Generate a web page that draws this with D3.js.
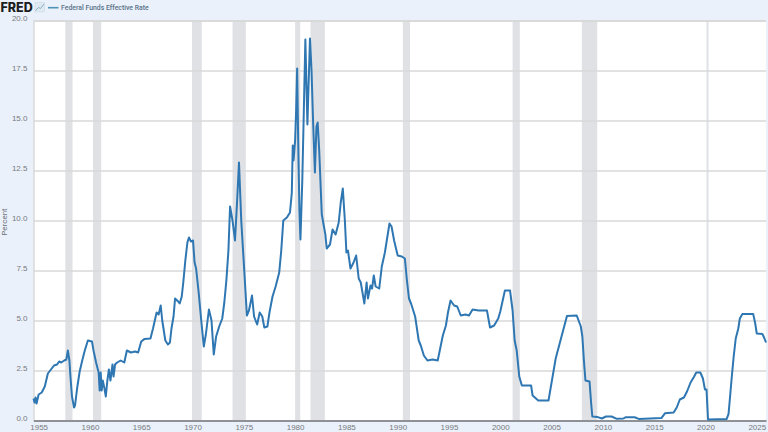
<!DOCTYPE html>
<html>
<head>
<meta charset="utf-8">
<script src="https://cdn.jsdelivr.net/npm/d3@7/dist/d3.min.js"></script>
<style>
    html, body { margin: 0; padding: 0; background: #eaf1fb; overflow: hidden; }
    svg { display: block; font-family: Roboto, "Open Sans", sans-serif; }
    .tick text { fill: #77797c; font-size: 8px; }
</style>
</head>
<body>
<div id="chart"></div>
<script>
const seriesName = 'Federal Funds Effective Rate';
const yTicks = [0, 2.5, 5, 7.5, 10, 12.5, 15, 17.5, 20];
const xTicks = [1955, 1960, 1965, 1970, 1975, 1980, 1985, 1990, 1995, 2000, 2005, 2010, 2015, 2020, 2025];
const recessions = [
    [1957.6, 1958.3], [1960.3, 1961.1], [1969.95, 1970.9], [1973.9, 1975.2], [1980.0, 1980.5],
    [1981.5, 1982.9], [1990.5, 1991.2], [2001.2, 2001.9], [2007.95, 2009.45], [2020.1, 2020.3]
];

// [year, percent], split by stretch
const rate1950s = [
    [1954.5, 1.1], [1954.6, 0.9], [1954.7, 1.15], [1954.8, 0.85], [1955.0, 1.3], [1955.3, 1.4], [1955.6, 1.7],
    [1955.9, 2.35], [1956.2, 2.55], [1956.5, 2.75], [1956.8, 2.8], [1957.0, 2.95], [1957.2, 2.9], [1957.5, 3.0],
    [1957.7, 3.05], [1957.85, 3.5], [1958.0, 3.0], [1958.1, 2.2], [1958.25, 1.2], [1958.45, 0.65], [1958.55, 0.75],
    [1958.75, 1.6], [1959.0, 2.45], [1959.25, 3.0], [1959.5, 3.5], [1959.8, 4.0], [1960.2, 3.95]
];
const rate1960s = [
    [1960.35, 3.5], [1960.6, 2.9], [1960.85, 2.4], [1960.95, 1.5], [1961.05, 2.4], [1961.15, 1.5], [1961.25, 2.0],
    [1961.4, 1.65], [1961.55, 1.2], [1961.7, 2.0], [1961.85, 2.55], [1962.0, 2.0], [1962.2, 2.8], [1962.3, 2.2],
    [1962.45, 2.8], [1962.65, 2.9], [1963.0, 3.0], [1963.35, 2.9], [1963.6, 3.5], [1964.0, 3.4], [1964.4, 3.45],
    [1964.7, 3.4], [1965.0, 3.95], [1965.3, 4.07], [1965.9, 4.1], [1966.15, 4.6], [1966.5, 5.4], [1966.7, 5.3],
    [1966.9, 5.75], [1967.05, 5.0], [1967.35, 4.0], [1967.6, 3.8], [1967.8, 3.9], [1967.95, 4.6], [1968.15, 5.2],
    [1968.3, 6.1], [1968.6, 5.95], [1968.75, 5.85], [1968.95, 6.2], [1969.1, 6.9], [1969.3, 8.0], [1969.5, 8.9],
    [1969.65, 9.15], [1969.85, 8.95], [1970.05, 9.0]
];
const rate1970s = [
    [1970.2, 7.9], [1970.35, 7.6], [1970.6, 6.4], [1970.85, 5.0], [1971.1, 3.7], [1971.3, 4.3], [1971.6, 5.55],
    [1971.85, 5.0], [1972.07, 3.3], [1972.3, 4.2], [1972.6, 4.7], [1972.9, 5.1], [1973.1, 5.9], [1973.3, 7.0],
    [1973.5, 8.5], [1973.66, 10.7], [1973.9, 10.0], [1974.14, 9.0], [1974.35, 11.0], [1974.53, 12.9], [1974.75, 10.0],
    [1975.1, 7.0], [1975.3, 5.25], [1975.5, 5.5], [1975.8, 6.25], [1976.0, 5.2], [1976.3, 4.8], [1976.55, 5.4],
    [1976.8, 5.2], [1977.0, 4.65], [1977.3, 4.7], [1977.5, 5.4], [1977.8, 6.2], [1978.1, 6.7], [1978.45, 7.4],
    [1978.65, 8.5], [1978.85, 10.0], [1979.2, 10.15], [1979.5, 10.4], [1979.68, 11.4], [1979.77, 13.75], [1979.85, 13.0],
    [1980.0, 14.0]
];
const rate1980s = [
    [1980.1, 15.5], [1980.2, 17.6], [1980.3, 14.0], [1980.42, 10.5], [1980.52, 9.05], [1980.7, 12.0], [1980.85, 15.5],
    [1981.0, 19.05], [1981.2, 14.8], [1981.45, 19.1], [1981.6, 17.5], [1981.75, 15.0], [1981.93, 12.4], [1982.08, 14.7],
    [1982.2, 14.9], [1982.35, 13.5], [1982.6, 10.3], [1982.95, 9.3], [1983.08, 8.6], [1983.4, 8.8], [1983.65, 9.55],
    [1983.95, 9.3], [1984.25, 9.9], [1984.45, 10.9], [1984.65, 11.6], [1984.85, 10.0], [1985.0, 8.4], [1985.15, 8.5],
    [1985.4, 7.6], [1985.7, 7.9], [1985.95, 8.25], [1986.2, 7.1], [1986.4, 6.9], [1986.75, 5.85], [1986.97, 6.9],
    [1987.1, 6.1], [1987.35, 6.75], [1987.5, 6.6], [1987.67, 7.25], [1987.85, 6.7], [1988.2, 6.6], [1988.45, 7.7],
    [1988.75, 8.4], [1989.2, 9.85], [1989.4, 9.7], [1989.65, 9.0], [1990.0, 8.25]
];
const rate1990s = [
    [1990.4, 8.2], [1990.7, 8.1], [1990.9, 7.0], [1991.1, 6.1], [1991.3, 5.85], [1991.7, 5.2], [1992.05, 4.0],
    [1992.25, 3.75], [1992.55, 3.25], [1992.9, 3.0], [1993.4, 3.05], [1993.9, 3.0], [1994.1, 3.5], [1994.4, 4.25],
    [1994.7, 4.75], [1994.9, 5.4], [1995.15, 6.0], [1995.5, 5.75], [1995.8, 5.7], [1996.15, 5.25], [1996.6, 5.3],
    [1996.95, 5.25], [1997.3, 5.55], [1997.9, 5.5], [1998.5, 5.5], [1998.7, 5.5], [1999.0, 4.65], [1999.4, 4.75],
    [1999.8, 5.1], [2000.0, 5.45]
];
const rate2000s = [
    [2000.45, 6.5], [2000.95, 6.5], [2001.2, 5.5], [2001.4, 4.0], [2001.6, 3.5], [2001.85, 2.2], [2002.1, 1.75],
    [2003.0, 1.75], [2003.15, 1.25], [2003.7, 1.0], [2004.7, 1.0], [2005.4, 3.1], [2006.5, 5.22], [2007.45, 5.25],
    [2007.85, 4.7], [2008.0, 4.2], [2008.15, 3.0], [2008.3, 2.0], [2008.7, 1.95], [2008.85, 0.9], [2008.97, 0.2],
    [2009.5, 0.17], [2009.9, 0.1]
];
const rate2010s = [
    [2010.3, 0.2], [2010.85, 0.2], [2011.3, 0.09], [2012.0, 0.1], [2012.2, 0.16], [2013.1, 0.16], [2013.5, 0.08],
    [2015.7, 0.12], [2016.05, 0.36], [2016.9, 0.4], [2017.2, 0.65], [2017.5, 1.05], [2017.9, 1.15], [2018.2, 1.45],
    [2018.55, 1.9], [2018.9, 2.2], [2019.1, 2.4], [2019.5, 2.4], [2019.75, 2.1], [2019.95, 1.55]
];
const rate2020s = [
    [2020.1, 1.55], [2020.25, 0.05], [2022.07, 0.08], [2022.25, 0.33], [2022.4, 1.2], [2022.55, 2.1], [2022.75, 3.2],
    [2022.95, 4.1], [2023.2, 4.6], [2023.35, 5.1], [2023.6, 5.33], [2024.65, 5.33], [2024.85, 4.85], [2025.0, 4.35],
    [2025.55, 4.33], [2025.75, 4.1], [2025.9, 3.9]
];
const rateData = [].concat(rate1950s, rate1960s, rate1970s, rate1980s, rate1990s, rate2000s, rate2010s, rate2020s);

const width = 768;
const height = 432;
const plot = { left: 33.5, right: 766, top: 20.5, bottom: 420.5 };

const x = d3.scaleLinear().domain([1954.5, 2025.9]).range([plot.left, plot.right]);
const y = d3.scaleLinear().domain([0, 20]).range([plot.bottom, plot.top]);

const svg = d3.select('#chart').append('svg').attr('width', width).attr('height', height);

const soft = svg.append('defs').append('filter').attr('id', 'soft');
soft.append('feGaussianBlur').attr('stdDeviation', 0.35);

svg.append('rect')
    .attr('x', plot.left).attr('y', plot.top)
    .attr('width', plot.right - plot.left).attr('height', plot.bottom - plot.top)
    .attr('fill', '#fff');

svg.append('g').selectAll('rect').data(recessions).enter().append('rect')
    .attr('x', d => x(d[0]))
    .attr('y', plot.top)
    .attr('width', d => x(d[1]) - x(d[0]))
    .attr('height', plot.bottom - plot.top)
    .attr('fill', '#dfe1e5');

const yAxis = svg.append('g')
    .attr('transform', `translate(${plot.left},0)`)
    .call(d3.axisLeft(y).tickValues(yTicks).tickFormat(d3.format('.1f')).tickSize(-(plot.right - plot.left)).tickPadding(6));
yAxis.select('.domain').attr('stroke', '#d6d6d6').attr('stroke-width', 1.4);
yAxis.selectAll('.tick line').attr('stroke', '#d9d9d9').attr('stroke-width', 1.6);
yAxis.selectAll('.tick text').attr('dy', '-0.05em');

const xAxis = svg.append('g')
    .attr('transform', `translate(0,${plot.bottom})`)
    .call(d3.axisBottom(x).tickValues(xTicks).tickFormat(d3.format('d')).tickSize(0).tickPadding(4));
xAxis.select('.domain').attr('stroke', '#75797e').attr('stroke-width', 1.4);

svg.append('text')
    .attr('transform', 'translate(7,222) rotate(-90)')
    .attr('text-anchor', 'middle')
    .attr('fill', '#6f7378')
    .attr('font-size', 8)
    .text('Percent');

const line = d3.line().x(d => x(d[0])).y(d => y(d[1]));
svg.append('path')
    .datum(rateData)
    .attr('d', line)
    .attr('fill', 'none')
    .attr('stroke', '#2f77b2')
    .attr('stroke-width', 2)
    .attr('stroke-linejoin', 'round')
    .attr('filter', 'url(#soft)');

// header: logo, small chart icon, legend
svg.append('text')
    .attr('x', 0.5).attr('y', 12)
    .attr('font-family', 'Inter, Roboto, sans-serif')
    .attr('font-weight', 800)
    .attr('font-size', 12.5)
    .attr('fill', '#1b1d21')
    .text('FRED');

const icon = svg.append('g');
icon.append('rect').attr('x', 35).attr('y', 2.5).attr('width', 9.5).attr('height', 9.5)
    .attr('fill', '#dfe9f2').attr('stroke', '#c6d6e2').attr('stroke-width', 0.5);
icon.append('path').attr('d', 'M35.5,10.5 L38.5,7.5 L40.5,8.5 L44,4')
    .attr('fill', 'none').attr('stroke', '#7fa9bf').attr('stroke-width', 0.9);

svg.append('line')
    .attr('x1', 48).attr('x2', 58.5).attr('y1', 7.7).attr('y2', 7.7)
    .attr('stroke', '#4f93b8').attr('stroke-width', 1.6);
svg.append('text')
    .attr('x', 61).attr('y', 10)
    .attr('font-size', 6.9)
    .attr('font-weight', 500)
    .attr('fill', '#5b7189')
    .text(seriesName);
</script>
</body>
</html>
